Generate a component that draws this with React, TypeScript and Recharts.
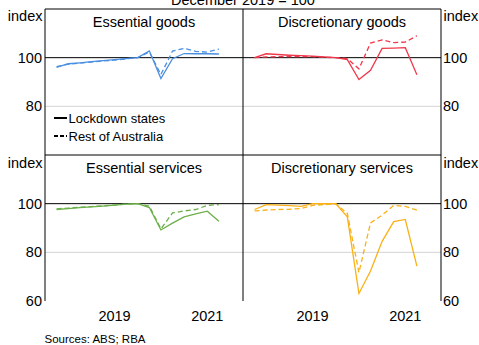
import React from 'react';
import { LineChart, Line, XAxis, YAxis, ReferenceLine } from 'recharts';

// Quarter positions (decimal years)
const quarters = [2018.25, 2018.5, 2018.75, 2019.0, 2019.25, 2019.5, 2019.75, 2020.0, 2020.25, 2020.5, 2020.75, 2021.0, 2021.25, 2021.5, 2021.75];

const essGoodsLock = [96.0, 97.5, 97.9, 98.4, 98.8, 99.2, 99.6, 100.0, 102.8, 91.4, 99.6, 101.7, 101.6, 101.6, 101.5];
const essGoodsRest = [96.3, 97.3, 97.7, 98.2, 98.6, 99.0, 99.5, 100.0, 102.3, 93.1, 102.7, 103.8, 102.6, 102.3, 103.5];

const discGoodsLock = [100.0, 101.6, 101.3, 101.0, 100.8, 100.6, 100.3, 100.0, 99.2, 91.0, 94.8, 103.8, 103.9, 104.1, 93.0];
const discGoodsRest = [100.0, 100.3, 100.4, 100.5, 100.4, 100.4, 100.2, 100.0, 99.6, 95.4, 106.0, 107.3, 106.2, 106.4, 109.0];

const essServLock = [97.6, 98.0, 98.4, 98.7, 99.0, 99.4, 99.8, 100.0, 98.4, 89.2, 92.0, 94.6, 95.8, 96.9, 92.8];
const essServRest = [97.9, 98.2, 98.5, 98.8, 99.1, 99.4, 99.8, 100.0, 99.0, 89.6, 96.2, 97.0, 97.6, 99.3, 99.6];

const discServLock = [97.6, 99.6, 99.4, 99.2, 98.9, 100.0, 100.0, 100.0, 94.6, 63.1, 72.3, 84.5, 92.6, 93.5, 74.3];
const discServRest = [97.0, 97.4, 97.6, 97.7, 98.0, 99.3, 99.6, 100.0, 96.0, 71.7, 92.1, 95.3, 99.3, 98.9, 97.3];

const yearTicks = [2018, 2019, 2020, 2021, 2022];
const yearLabelTicks = [2019.5, 2021.5];
const xDomain: [number, number] = [2018, 2022.27];
const yDomain: [number, number] = [60, 120];
const topYTicks = [80, 100];
const bottomYTicks = [60, 80, 100];

const panelTitles = ['Essential goods', 'Discretionary goods', 'Essential services', 'Discretionary services'];
const legendLabels = ['Lockdown states', 'Rest of Australia'];
const colors = ['#4a8fe0', '#f0384c', '#6bb04a', '#fbb116'];

const FONT = '"Liberation Sans", Arial, Helvetica, sans-serif';
const W = 479;
const H = 345;

const mk = (lock: number[], rest: number[]) => quarters.map((x, i) => ({ x, lock: lock[i], rest: rest[i] }));

const TickMark = (props: any) => (
  <line x1={props.x} x2={props.x} y1={props.y} y2={props.y - 6} stroke="#000" strokeWidth={1} />
);

type PanelProps = { lock: number[]; rest: number[]; color: string; right: boolean; bottom: boolean };

function Panel({ lock, rest, color, right, bottom }: PanelProps) {
  const data = mk(lock, rest);
  const margin = {
    top: bottom ? 155 : 9,
    bottom: bottom ? 14 : 190,
    left: right ? 243 : 0,
    right: right ? 0 : 236,
  };
  return (
    <div style={{ position: 'absolute', left: 0, top: 0 }}>
      <LineChart width={W} height={H} data={data} margin={margin}>
        <XAxis
          xAxisId="t"
          type="number"
          dataKey="x"
          domain={xDomain}
          ticks={yearTicks}
          allowDataOverflow
          hide={!bottom}
          height={0}
          tickLine={false}
          tickSize={0}
          tickMargin={0}
          tick={<TickMark />}
          axisLine={{ stroke: '#000', strokeWidth: 1 }}
        />
        <XAxis
          xAxisId="l"
          type="number"
          dataKey="x"
          domain={xDomain}
          ticks={yearLabelTicks}
          allowDataOverflow
          hide={!bottom}
          height={30}
          tickLine={false}
          axisLine={false}
          tickSize={0}
          tickMargin={10}
          tickFormatter={(v: number) => String(Math.floor(v))}
          tick={{ fill: '#000', fontSize: 14.5, fontFamily: FONT }}
        />
        <YAxis
          type="number"
          domain={yDomain}
          ticks={bottom ? bottomYTicks : topYTicks}
          orientation={right ? 'right' : 'left'}
          width={right ? 38 : 45}
          tickLine={false}
          tickSize={0}
          tickMargin={right ? 2 : 3}
          axisLine={{ stroke: '#000', strokeWidth: 1 }}
          tick={{ fill: '#000', fontSize: 14.5, fontFamily: FONT }}
          interval={0}
        />
        <ReferenceLine xAxisId="t" y={80} stroke="#d4d4d4" strokeWidth={1} />
        <ReferenceLine xAxisId="t" y={100} stroke="#000" strokeWidth={1} />
        {!bottom && <ReferenceLine xAxisId="t" y={120} stroke="#000" strokeWidth={1} />}
        {!bottom && <ReferenceLine xAxisId="t" y={60} stroke="#000" strokeWidth={1} />}
        {right && <ReferenceLine xAxisId="t" x={2018} stroke="#000" strokeWidth={1} />}
        <Line xAxisId="t" type="linear" dataKey="rest" stroke={color} strokeWidth={1.3} strokeDasharray="5 3" dot={false} isAnimationActive={false} />
        <Line xAxisId="t" type="linear" dataKey="lock" stroke={color} strokeWidth={1.3} dot={false} isAnimationActive={false} />
      </LineChart>
    </div>
  );
}

export default function App() {
  return (
    <div style={{ position: 'fixed', left: 0, top: 0, width: W, height: H, background: '#fff', fontFamily: FONT }}>
      <Panel lock={essGoodsLock} rest={essGoodsRest} color={colors[0]} right={false} bottom={false} />
      <Panel lock={discGoodsLock} rest={discGoodsRest} color={colors[1]} right={true} bottom={false} />
      <Panel lock={essServLock} rest={essServRest} color={colors[2]} right={false} bottom={true} />
      <Panel lock={discServLock} rest={discServRest} color={colors[3]} right={true} bottom={true} />
      <svg width={W} height={H} style={{ position: 'absolute', left: 0, top: 0, pointerEvents: 'none' }} fontFamily={FONT}>
        <text x={243} y={4.5} textAnchor="middle" fontSize={14.5} fill="#000">December 2019 = 100</text>
        <text x={144} y={27} textAnchor="middle" fontSize={14.5} fill="#000">{panelTitles[0]}</text>
        <text x={342} y={27} textAnchor="middle" fontSize={14.5} fill="#000">{panelTitles[1]}</text>
        <text x={144} y={173} textAnchor="middle" fontSize={14.5} fill="#000">{panelTitles[2]}</text>
        <text x={342} y={173} textAnchor="middle" fontSize={14.5} fill="#000">{panelTitles[3]}</text>
        <text x={42.5} y={21} textAnchor="end" fontSize={14.5} fill="#000">index</text>
        <text x={42.5} y={167.5} textAnchor="end" fontSize={14.5} fill="#000">index</text>
        <text x={443.5} y={21} textAnchor="start" fontSize={14.5} fill="#000">index</text>
        <text x={443.5} y={167.5} textAnchor="start" fontSize={14.5} fill="#000">index</text>
        <line x1={54} x2={67} y1={118} y2={118} stroke="#000" strokeWidth={2} />
        <line x1={54} x2={67} y1={136} y2={136} stroke="#000" strokeWidth={2} strokeDasharray="4 2" />
        <text x={68.5} y={122.5} fontSize={13} fill="#000">{legendLabels[0]}</text>
        <text x={68.5} y={140.5} fontSize={13} fill="#000">{legendLabels[1]}</text>
        <text x={44.5} y={343} fontSize={11.5} fill="#000">Sources: ABS; RBA</text>
      </svg>
    </div>
  );
}
